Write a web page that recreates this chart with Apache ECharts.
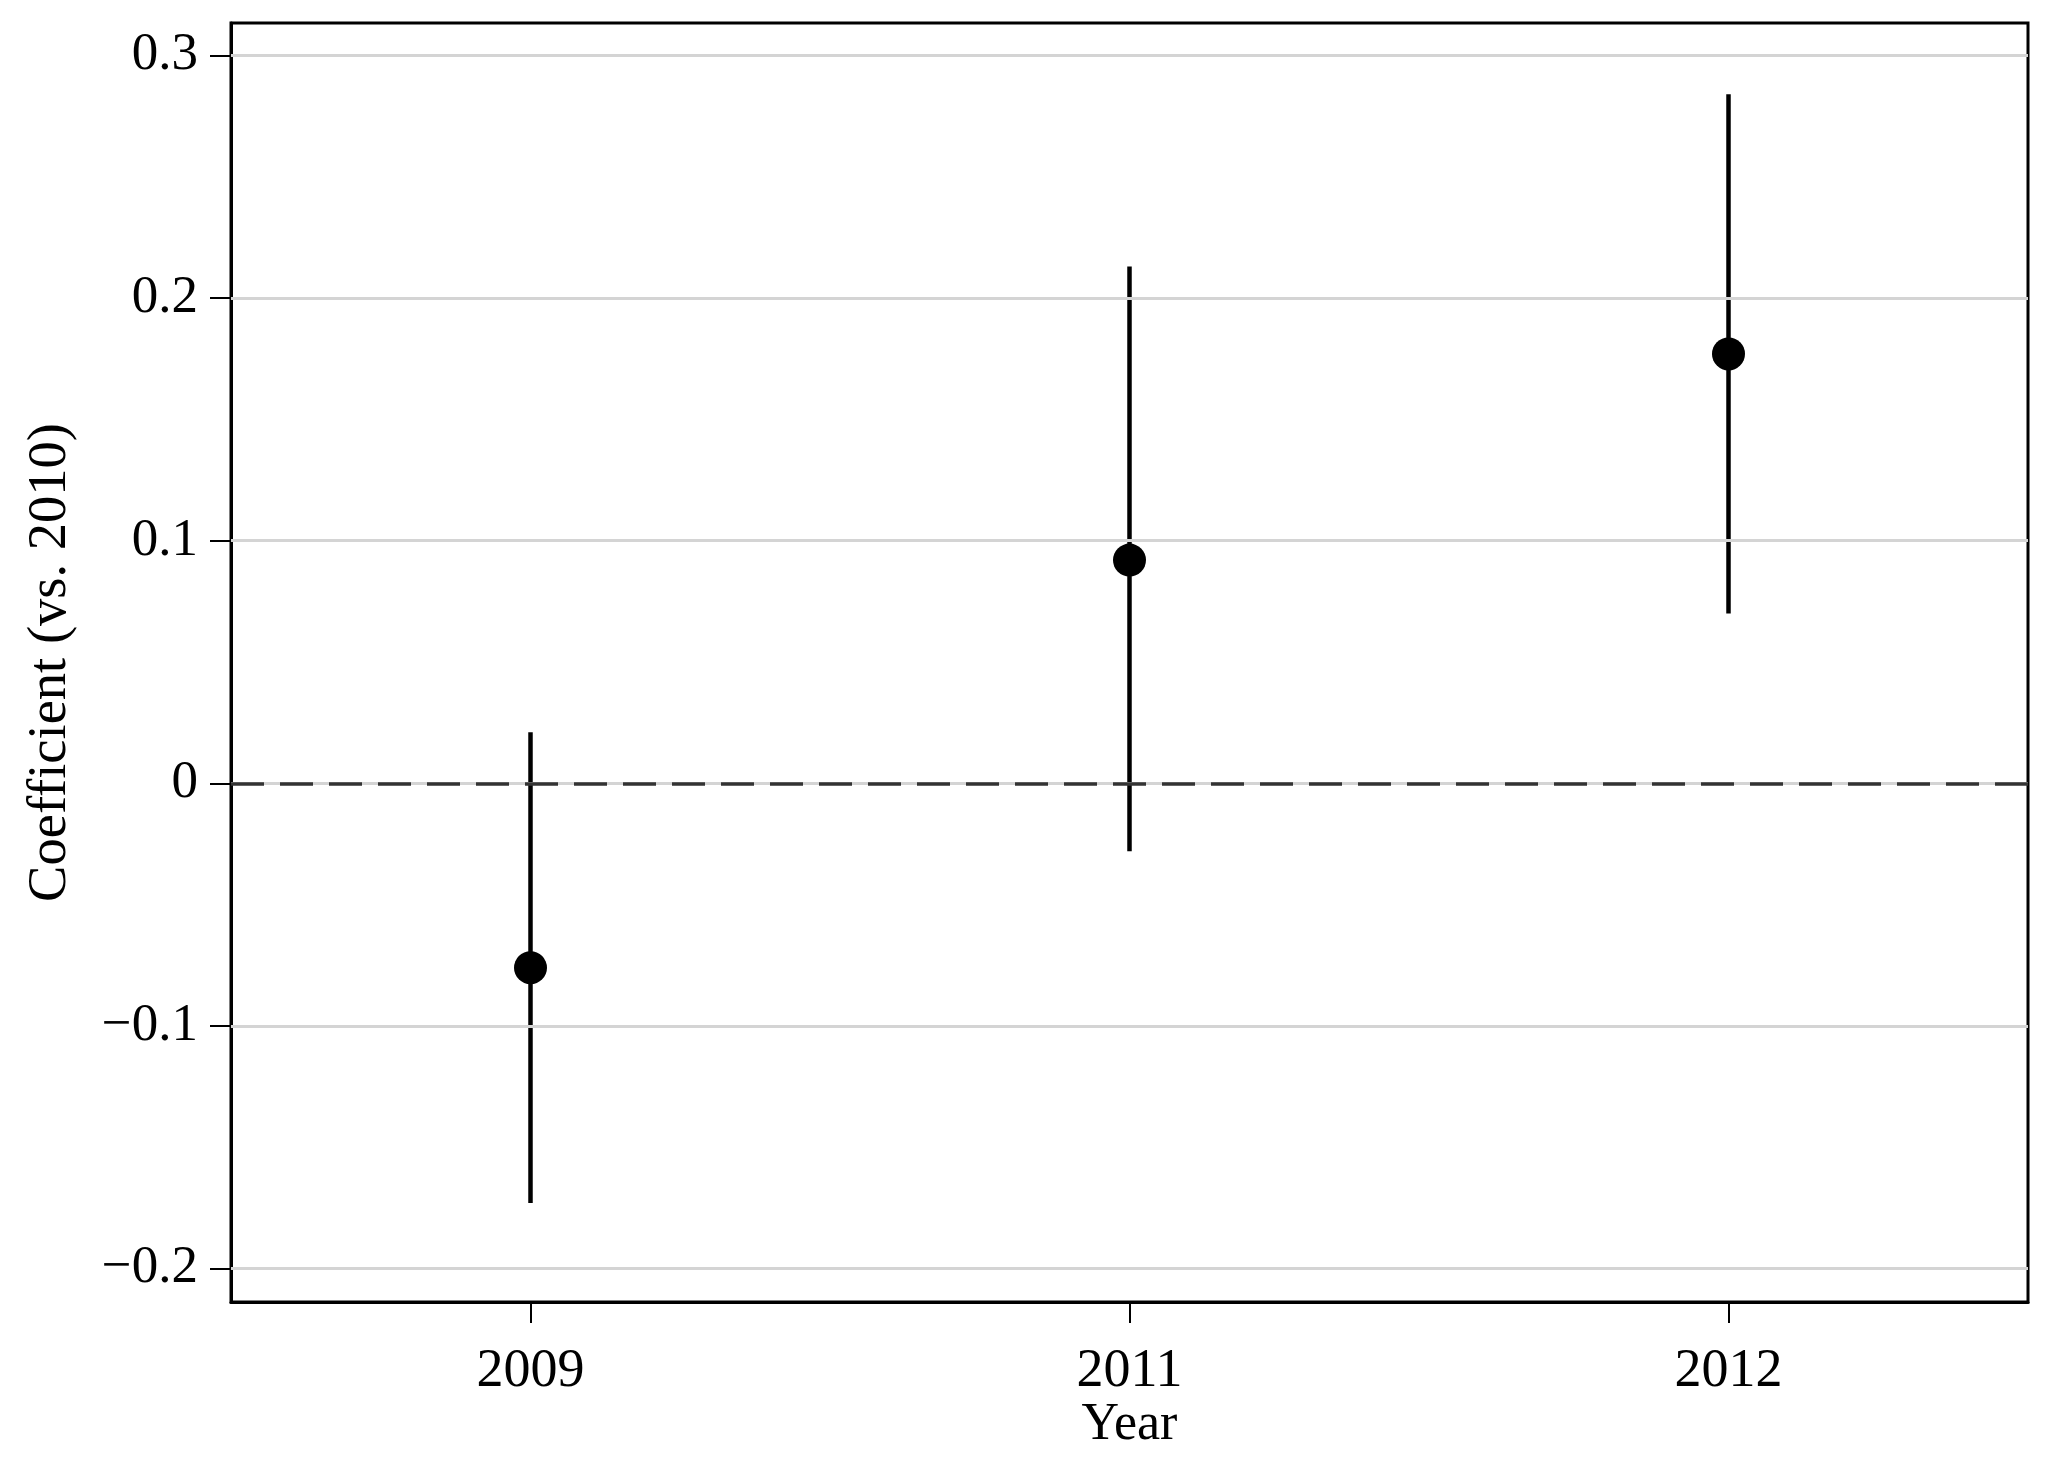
<!DOCTYPE html>
<html>
<head>
<meta charset="utf-8">
<script src="https://cdn.jsdelivr.net/npm/echarts@6/dist/echarts.min.js"></script>
<style>
html,body{margin:0;padding:0;background:#fff;}
#chart{width:2059px;height:1470px;}
</style>
</head>
<body>
<div id="chart"></div>
<script>
// ---- data ----
const years = ['2009', '2011', '2012'];
const coefs = [-0.076, 0.092, 0.177];
const ciLow = [-0.173, -0.028, 0.070];
const ciHigh = [0.021, 0.213, 0.284];
const yTicks = [-0.2, -0.1, 0, 0.1, 0.2, 0.3];
const yMin = -0.2138;
const yMax = 0.3134;

const FONT = '"Liberation Serif", "Times New Roman", serif';
const fmt = v => (v < 0 ? '\u2212' + String(Math.abs(v)) : String(v));

const barData = years.map((y, i) => [i, ciLow[i], ciHigh[i]]);
const BAR_W = 4.5;

const chart = echarts.init(document.getElementById('chart'), null, {renderer: 'canvas'});
chart.setOption({
  animation: false,
  backgroundColor: '#ffffff',
  grid: {
    left: 231, right: 31, top: 23, bottom: 168,
    show: true, borderColor: '#000', borderWidth: 3, backgroundColor: 'transparent'
  },
  xAxis: {
    type: 'category',
    data: years,
    boundaryGap: true,
    name: 'Year',
    nameLocation: 'middle',
    nameGap: 97,
    nameMoveOverlap: false,
    nameTextStyle: {fontFamily: FONT, fontSize: 52, color: '#000'},
    axisLine: {show: true, onZero: false, lineStyle: {color: '#000', width: 3}},
    axisTick: {show: true, alignWithLabel: true, length: 21, lineStyle: {color: '#000', width: 2}},
    axisLabel: {fontFamily: FONT, fontSize: 54, color: '#000', margin: 43},
    splitLine: {show: false}
  },
  yAxis: {
    type: 'value',
    min: yMin,
    max: yMax,
    name: 'Coefficient (vs. 2010)',
    nameLocation: 'middle',
    nameGap: 153,
    nameMoveOverlap: false,
    nameRotate: 90,
    nameTextStyle: {fontFamily: FONT, fontSize: 54.5, color: '#000'},
    axisLine: {show: true, onZero: false, lineStyle: {color: '#000', width: 3}},
    axisTick: {show: true, customValues: yTicks, length: 21, lineStyle: {color: '#000', width: 2}},
    axisLabel: {customValues: yTicks, formatter: fmt, fontFamily: FONT, fontSize: 53, color: '#000', margin: 33},
    splitLine: {show: false}
  },
  series: [
    {
      type: 'line',
      data: [],
      z: 1,
      silent: true,
      markLine: {
        silent: true,
        symbol: 'none',
        label: {show: false},
        lineStyle: {color: '#d4d4d4', width: 3, type: 'solid', opacity: 1},
        data: yTicks.map(v => ({yAxis: v}))
      }
    },
    {
      type: 'line',
      data: [],
      z: 2,
      silent: true,
      markLine: {
        silent: true,
        symbol: 'none',
        label: {show: false},
        lineStyle: {color: '#333', width: 3.5, type: [33, 16], opacity: 1},
        data: [{yAxis: 0}]
      }
    },
    {
      type: 'custom',
      z: 3,
      silent: true,
      clip: false,
      data: barData,
      encode: {x: 0, y: [1, 2]},
      renderItem: function (params, api) {
        const x = api.value(0);
        const p1 = api.coord([x, api.value(1)]);
        const p2 = api.coord([x, api.value(2)]);
        return {
          type: 'rect',
          shape: {x: p1[0] - BAR_W / 2, y: p2[1], width: BAR_W, height: p1[1] - p2[1]},
          style: {fill: '#000', opacity: 1}
        };
      }
    },
    {
      type: 'scatter',
      z: 4,
      silent: true,
      data: coefs,
      symbol: 'circle',
      symbolSize: 33,
      itemStyle: {color: '#000', opacity: 1}
    }
  ]
});
</script>
</body>
</html>
